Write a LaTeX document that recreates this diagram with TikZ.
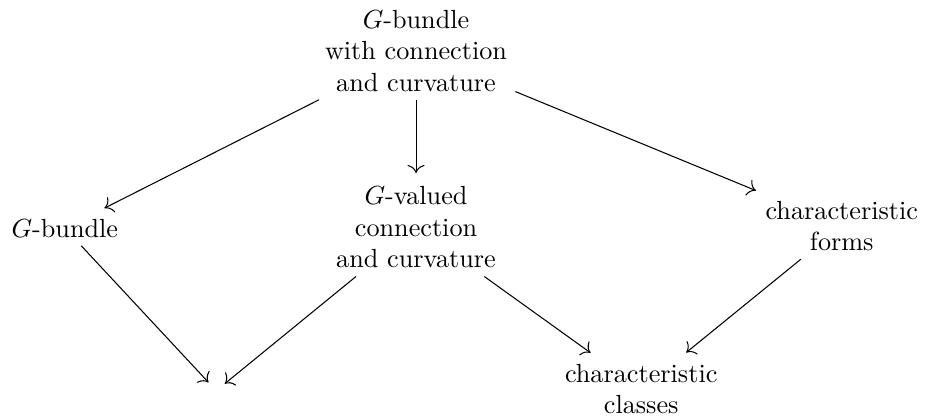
\documentclass[tikz,border=0pt]{standalone}
\usetikzlibrary{positioning,arrows.meta}

\begin{document}
\begin{tikzpicture} [
			concept/.style={align=center,inner sep=3pt},
			target/.style={inner sep=1.5pt},
			>={To[scale=1.25]},shorten >=2pt,thin]
			\useasboundingbox (0,0) rectangle (12.42,-5.62);
			\node[concept] (g_conn) at (5.58,-0.68) {$G$-bundle\\with connection\\and curvature};
			\node[concept] (g_bundle) at (0.87,-3.06) {$G$-bundle};
			\node[concept] (g_valued) at (5.58,-3.05) {$G$-valued\\connection\\and curvature};
			\node[concept] (char_forms) at (11.29,-3.03) {characteristic\\forms};
			\node[concept] (char_classes) at (8.60,-5.22) {characteristic\\classes};
			\node[target] (g_sink) at (2.90,-5.24) {};
			\path[->] (g_conn) edge (g_bundle);
			\path[->] (g_conn) edge (g_valued);
			\path[->] (g_conn) edge (char_forms);

			\path[->] (g_bundle) edge (g_sink);
			\path[->] (g_valued) edge (g_sink);
			\path[->] (g_valued) edge (char_classes);
			\path[->] (char_forms) edge (char_classes);
		\end{tikzpicture}
\end{document}
